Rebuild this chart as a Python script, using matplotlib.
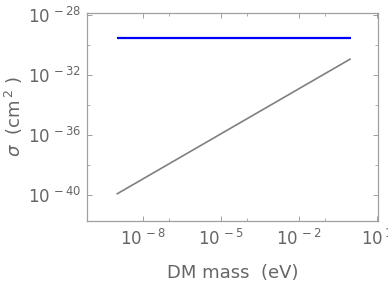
import numpy as np
import matplotlib
matplotlib.use("Agg")
import matplotlib.pyplot as plt
from matplotlib.ticker import FixedLocator, NullFormatter

# values
mass_ev = [1e-9, 1.0]
sigma_flat = [3.1e-30, 3.1e-30]
sigma_rising = [1.2e-40, 1.25e-31]

x_major = [1e-8, 1e-5, 1e-2, 1e1]
x_major_labels = [r"$10^{\,-8}$", r"$10^{\,-5}$", r"$10^{\,-2}$", r"$10^{\,1}$"]
x_minor = [1e-7, 1e-4, 1e-1]
y_major = [1e-28, 1e-32, 1e-36, 1e-40]
y_major_labels = [r"$10^{\,-28}$", r"$10^{\,-32}$", r"$10^{\,-36}$", r"$10^{\,-40}$"]
y_minor = [1e-30, 1e-34, 1e-38]

frame_color = "#a0a0a0"
text_color = "#666666"

plt.rcParams["mathtext.fontset"] = "dejavusans"

fig = plt.figure(figsize=(3.88, 2.91), dpi=100)
ax = fig.add_axes([0.2234, 0.2416, 0.7515, 0.7148])

ax.plot(mass_ev, sigma_flat, color="#0000ff", lw=1.6, solid_capstyle="butt")
ax.plot(mass_ev, sigma_rising, color="#808080", lw=1.2, solid_capstyle="butt")

ax.set_xscale("log")
ax.set_yscale("log")
ax.set_xlim(10**-10.15, 10**1.06)
ax.set_ylim(10**-41.69, 10**-27.83)

ax.xaxis.set_major_locator(FixedLocator(x_major))
ax.set_xticklabels(x_major_labels)
ax.xaxis.set_minor_locator(FixedLocator(x_minor))
ax.xaxis.set_minor_formatter(NullFormatter())
ax.yaxis.set_major_locator(FixedLocator(y_major))
ax.set_yticklabels(y_major_labels)
ax.yaxis.set_minor_locator(FixedLocator(y_minor))
ax.yaxis.set_minor_formatter(NullFormatter())

for side in ax.spines.values():
    side.set_color(frame_color)
    side.set_linewidth(0.9)

ax.tick_params(which="both", direction="in", top=True, right=True,
               color=frame_color, labelcolor=text_color, labelsize=12)
ax.tick_params(which="major", length=3.3, width=0.7, pad=4)
ax.tick_params(which="minor", length=2.5, width=0.6)
ax.tick_params(axis="x", which="major", pad=6)

ax.set_xlabel("DM mass  (eV)", fontsize=13, color=text_color, va="center")
ax.xaxis.set_label_coords(0.5, -0.251)
ax.set_ylabel(r"$\sigma$  (cm$^{\,2}$ )", fontsize=13, color=text_color, va="center")
ax.yaxis.set_label_coords(-0.249, 0.5)

fig.savefig("out.png", dpi=100)
